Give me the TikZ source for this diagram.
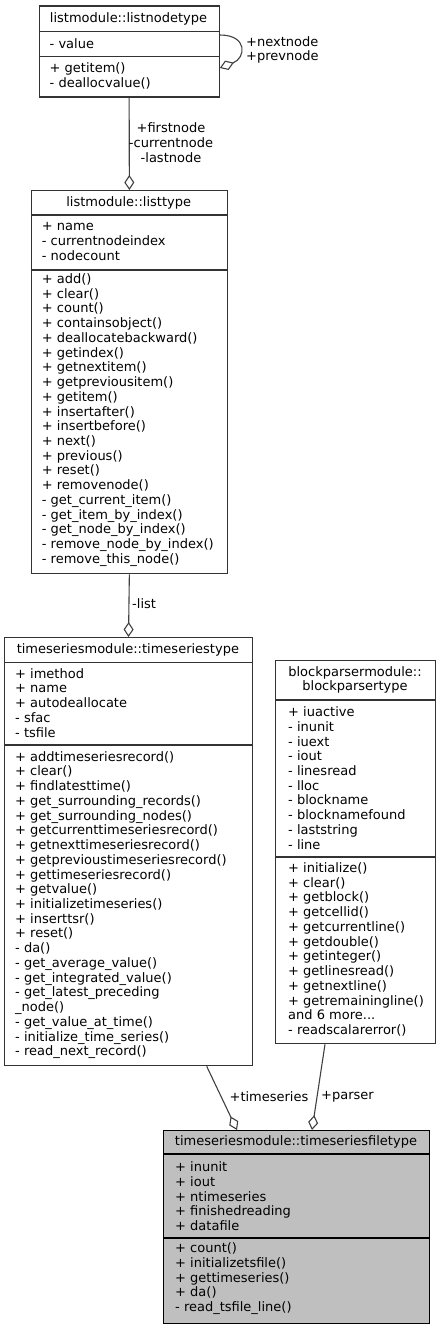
\documentclass[tikz,border=0pt]{standalone}
\usepackage{fontspec}
\setmainfont{DejaVu Sans}
\usetikzlibrary{arrows.meta}
\definecolor{edgec}{HTML}{404040}
\definecolor{bordc}{HTML}{333333}
\definecolor{hlc}{HTML}{BFBFBF}
\begin{document}
\begin{tikzpicture}[x=1pt,y=-1pt,
  font=\fontsize{13}{14.74}\selectfont,
  cls/.style={draw=bordc, line width=1.3pt, fill=white, anchor=north west, inner sep=0pt},
  sep/.style={draw=bordc, line width=1.3pt},
  txt/.style={anchor=west, align=left, inner sep=0pt},
  hdr/.style={align=center, inner sep=0pt},
  lbl/.style={align=center, inner sep=0pt},
  agg/.style={draw=edgec, line width=1.1pt, -{Diamond[open, length=15pt, width=10pt, line width=1.1pt]}}]
\useasboundingbox (0,0) rectangle (440,1329);

% ---------- listnodetype ----------
\node[cls, minimum width=180pt, minimum height=91pt] (lnt) at (38.5,5.5) {};
\draw[sep] (lnt.west |- 0,31.5) -- (lnt.east |- 0,31.5);
\draw[sep] (lnt.west |- 0,56.5) -- (lnt.east |- 0,56.5);
\node[hdr] (lntH) at (128.5,18.5) {listmodule::listnodetype};
\node[txt] (lntA) at (49.5,44) {- value};
\node[txt] (lntM) at (49.5,76) {+ getitem()\\- deallocvalue()};

% ---------- listtype ----------
\node[cls, minimum width=196pt, minimum height=383pt] (lt) at (30.7,190) {};
\draw[sep] (lt.west |- 0,215) -- (lt.east |- 0,215);
\draw[sep] (lt.west |- 0,270) -- (lt.east |- 0,270);
\node[hdr] (ltH) at (128.7,202.5) {listmodule::listtype};
\node[txt] (ltA) at (41.7,241.7) {+ name\\- currentnodeindex\\- nodecount};
\node[txt] (ltM) at (41.7,420) {+ add()\\+ clear()\\+ count()\\+ containsobject()\\+ deallocatebackward()\\+ getindex()\\+ getnextitem()\\+ getpreviousitem()\\+ getitem()\\+ insertafter()\\+ insertbefore()\\+ next()\\+ previous()\\+ reset()\\+ removenode()\\- get\_current\_item()\\- get\_item\_by\_index()\\- get\_node\_by\_index()\\- remove\_node\_by\_index()\\- remove\_this\_node()};

% ---------- timeseriestype ----------
\node[cls, minimum width=247.7pt, minimum height=428pt] (ts) at (4,637) {};
\draw[sep] (ts.west |- 0,662.7) -- (ts.east |- 0,662.7);
\draw[sep] (ts.west |- 0,745) -- (ts.east |- 0,745);
\node[hdr] (tsH) at (127.9,650) {timeseriesmodule::timeseriestype};
\node[txt] (tsA) at (15,702.8) {+ imethod\\+ name\\+ autodeallocate\\- sfac\\- tsfile};
\node[txt] (tsM) at (15,905.1) {+ addtimeseriesrecord()\\+ clear()\\+ findlatesttime()\\+ get\_surrounding\_records()\\+ get\_surrounding\_nodes()\\+ getcurrenttimeseriesrecord()\\+ getnexttimeseriesrecord()\\+ getprevioustimeseriesrecord()\\+ gettimeseriesrecord()\\+ getvalue()\\+ initializetimeseries()\\+ inserttsr()\\+ reset()\\- da()\\- get\_average\_value()\\- get\_integrated\_value()\\- get\_latest\_preceding\\\_node()\\- get\_value\_at\_time()\\- initialize\_time\_series()\\- read\_next\_record()};

% ---------- blockparsertype ----------
\node[cls, minimum width=160pt, minimum height=383pt] (bp) at (275,660) {};
\draw[sep] (bp.west |- 0,700) -- (bp.east |- 0,700);
\draw[sep] (bp.west |- 0,857) -- (bp.east |- 0,857);
\node[hdr] (bpH) at (355,680) {blockparsermodule::\\blockparsertype};
\node[txt] (bpA) at (288,778) {+ iuactive\\- inunit\\- iuext\\- iout\\- linesread\\- lloc\\- blockname\\- blocknamefound\\- laststring\\- line};
\node[txt] (bpM) at (288,949.4) {+ initialize()\\+ clear()\\+ getblock()\\+ getcellid()\\+ getcurrentline()\\+ getdouble()\\+ getinteger()\\+ getlinesread()\\+ getnextline()\\+ getremainingline()\\and 6 more...\\- readscalarerror()};

% ---------- timeseriesfiletype ----------
\node[cls, fill=hlc, draw=black, minimum width=266.3pt, minimum height=193pt] (tsf) at (162.7,1130) {};
\draw[sep, draw=black] (tsf.west |- 0,1154) -- (tsf.east |- 0,1154);
\draw[sep, draw=black] (tsf.west |- 0,1238) -- (tsf.east |- 0,1238);
\node[hdr] (tsfH) at (296,1142) {timeseriesmodule::timeseriesfiletype};
\node[txt] (tsfA) at (175,1196.2) {+ inunit\\+ iout\\+ ntimeseries\\+ finishedreading\\+ datafile};
\node[txt] (tsfM) at (175,1278.8) {+ count()\\+ initializetsfile()\\+ gettimeseries()\\+ da()\\- read\_tsfile\_line()};

% ---------- connectors ----------
\draw[agg] (lnt.north east |- 0,35) .. controls (248,35) and (246,58) .. (lnt.east |- 0,68);
\node[txt] (lblNext) at (246,50) {+nextnode\\+prevnode};

\draw[agg] (lnt.south) -- (lt.north);
\node[lbl] (lblFirst) at (171,142.5) {+firstnode\\-currentnode\\-lastnode};

\draw[agg] (lt.south) -- (ts.north);
\node[txt] (lblList) at (132,604) {-list};

\draw[agg] (ts.south -| 206.7,0) -- (tsf.north -| 237,0);
\node[lbl] (lblTs) at (269,1097) {+timeseries};

\draw[agg] (bp.south -| 325,0) -- (tsf.north -| 312,0);
\node[lbl] (lblParser) at (347.5,1097) {+parser};
\end{tikzpicture}
\end{document}
